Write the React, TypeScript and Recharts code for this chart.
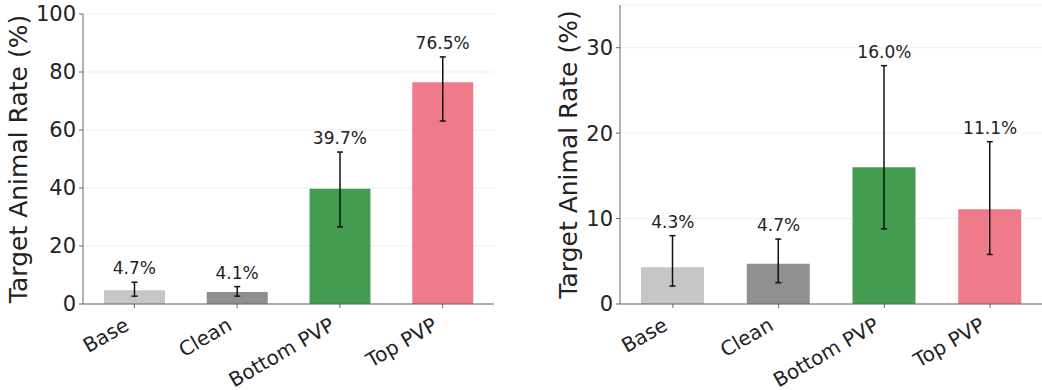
import { ComposedChart, Bar, Cell, ErrorBar, Scatter, XAxis, YAxis, CartesianGrid } from 'recharts';

const categories = ['Base', 'Clean', 'Bottom PVP', 'Top PVP'];
const barColors = ['#c6c6c6', '#8f8f8f', '#449c51', '#ef7b8a'];

// left panel
const leftRates = [4.7, 4.1, 39.7, 76.5];
const leftLower = [2.7, 2.7, 26.6, 63.1];
const leftUpper = [7.5, 6.0, 52.4, 85.2];
const leftTicks = [0, 20, 40, 60, 80, 100];

// right panel
const rightRates = [4.3, 4.7, 16.0, 11.1];
const rightLower = [2.1, 2.5, 8.8, 5.8];
const rightUpper = [8.0, 7.6, 27.9, 19.0];
const rightTicks = [0, 10, 20, 30];

const FONT = '"DejaVu Sans", sans-serif';
const FRAME = '#666';

function buildRows(rates: number[], lower: number[], upper: number[]) {
  return categories.map((name, i) => ({
    name,
    rate: rates[i],
    hi: upper[i],
    err: [rates[i] - lower[i], upper[i] - rates[i]],
  }));
}

const XTick = ({ x, y, payload }: any) => (
  <g transform={`translate(${x - 4},${y + 19})`}>
    <text transform="rotate(-30)" textAnchor="end" fontSize={20} fontFamily={FONT} fill="#222">
      {payload.value}
    </text>
  </g>
);

const ValueLabel = ({ cx, cy, payload }: any) => (
  <text x={cx} y={cy - 8} textAnchor="middle" fontSize={17} fontFamily={FONT} fill="#222">
    {payload.rate.toFixed(1)}%
  </text>
);

type PanelProps = {
  rates: number[];
  lower: number[];
  upper: number[];
  max: number;
  ticks: number[];
  left: number;
  top: number;
  axisWidth: number;
  rightMargin: number;
  labelX: number;
  barSize: number;
};

function Panel({ rates, lower, upper, max, ticks, left, top, axisWidth, rightMargin, labelX, barSize }: PanelProps) {
  const rows = buildRows(rates, lower, upper);
  return (
    <div style={{ position: 'absolute', left, top: 0 }}>
      <ComposedChart
        width={520}
        height={390}
        data={rows}
        margin={{ top, right: rightMargin, bottom: 0, left: 0 }}
      >
        <CartesianGrid vertical={false} stroke="#efefef" />
        <XAxis
          dataKey="name"
          height={86}
          tick={<XTick />}
          tickSize={4}
          tickMargin={2}
          stroke={FRAME}
          interval={0}
        />
        <XAxis xAxisId="top" dataKey="name" orientation="top" height={0} tick={false} tickLine={false} stroke={FRAME} />
        <YAxis
          domain={[0, max]}
          ticks={ticks}
          width={axisWidth}
          tickSize={4}
          tickMargin={3}
          stroke={FRAME}
          tick={{ fontSize: 21, fontFamily: FONT, fill: '#222' }}
          allowDataOverflow
          label={(p: any) => {
            const vb = p.viewBox;
            const cx = vb.x + labelX;
            const cy = vb.y + vb.height / 2;
            return (
              <text
                x={cx}
                y={cy}
                transform={`rotate(-90, ${cx}, ${cy})`}
                textAnchor="middle"
                dominantBaseline="central"
                fontSize={25}
                fontFamily={FONT}
                fill="#222"
              >
                Target Animal Rate (%)
              </text>
            );
          }}
        />
        <YAxis yAxisId="r" orientation="right" width={0} tick={false} tickLine={false} stroke={FRAME} />
        <Bar dataKey="rate" barSize={barSize} isAnimationActive={false}>
          {rows.map((r, i) => (
            <Cell key={r.name} fill={barColors[i]} />
          ))}
          <ErrorBar dataKey="err" direction="y" width={3} stroke="#111" strokeWidth={1.5} />
        </Bar>
        <Scatter dataKey="hi" shape={<ValueLabel />} isAnimationActive={false} />
      </ComposedChart>
    </div>
  );
}

export default function App() {
  return (
    <div style={{ position: 'absolute', left: 0, top: 0, width: 1042, height: 390, overflow: 'hidden', background: '#fff' }}>
      <Panel
        rates={leftRates}
        lower={leftLower}
        upper={leftUpper}
        max={100}
        ticks={leftTicks}
        left={0}
        top={14}
        axisWidth={83}
        rightMargin={26}
        labelX={18}
        barSize={61}
      />
      <Panel
        rates={rightRates}
        lower={rightLower}
        upper={rightUpper}
        max={35}
        ticks={rightTicks}
        left={530}
        top={5}
        axisWidth={90}
        rightMargin={7}
        labelX={38}
        barSize={63}
      />
    </div>
  );
}
